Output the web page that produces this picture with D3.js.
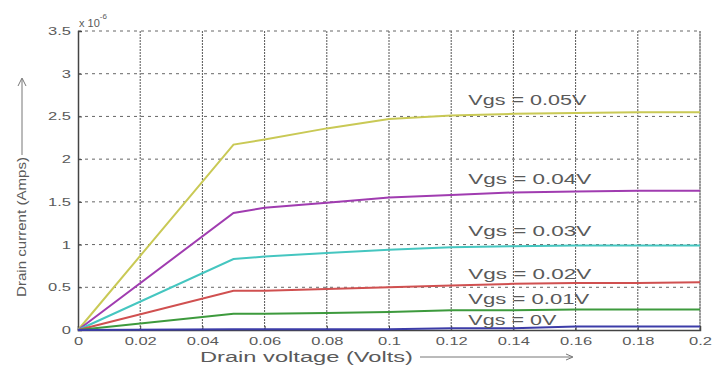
<!DOCTYPE html>
<html>
<head>
<meta charset="utf-8">
<script src="https://cdn.jsdelivr.net/npm/d3@7"></script>
<style>
  body { margin: 0; background: #fff; }
  text { font-family: "Liberation Sans", Arial, sans-serif; fill: #5a5a5a; }
</style>
</head>
<body>
<div id="chart"></div>
<script>
// drain voltage samples (Volts)
var vds = [0, 0.05, 0.06, 0.08, 0.1, 0.12, 0.14, 0.16, 0.18, 0.2];

// drain current, x 10^-6 Amps
var id005 = [0, 2.17, 2.23, 2.36, 2.47, 2.51, 2.53, 2.54, 2.55, 2.55];
var id004 = [0, 1.37, 1.43, 1.49, 1.55, 1.58, 1.61, 1.62, 1.63, 1.63];
var id003 = [0, 0.83, 0.86, 0.90, 0.94, 0.97, 0.98, 0.99, 0.99, 0.99];
var id002 = [0, 0.46, 0.46, 0.48, 0.50, 0.52, 0.54, 0.55, 0.55, 0.56];
var id001 = [0, 0.19, 0.19, 0.20, 0.21, 0.23, 0.23, 0.24, 0.24, 0.24];
var id000 = [0, 0.01, 0.01, 0.01, 0.01, 0.02, 0.02, 0.04, 0.04, 0.04];

var labels = ["Vgs = 0.05V", "Vgs = 0.04V", "Vgs = 0.03V", "Vgs = 0.02V", "Vgs = 0.01V", "Vgs = 0V"];
var labelY = [2.63, 1.71, 1.10, 0.60, 0.30, 0.06];
var colors = ["#c9c955", "#a03cb0", "#45c6c0", "#d05050", "#3d9a3d", "#3c3ca8"];

var xTicks = [0, 0.02, 0.04, 0.06, 0.08, 0.1, 0.12, 0.14, 0.16, 0.18, 0.2];
var yTicks = [0, 0.5, 1, 1.5, 2, 2.5, 3, 3.5];

var width = 714, height = 372;
var svg = d3.select("#chart").append("svg")
    .attr("width", width)
    .attr("height", height);

var x = d3.scaleLinear().domain([0, 0.2]).range([78, 700]);
var y = d3.scaleLinear().domain([0, 3.5]).range([330, 31]);

// stretch text horizontally like the original
function stretch(sel, k) {
    sel.each(function () {
        var w = this.getComputedTextLength();
        this.setAttribute("textLength", w * k);
        this.setAttribute("lengthAdjust", "spacingAndGlyphs");
    });
}

// grid
svg.append("g").selectAll("line")
    .data(xTicks.slice(1))
    .enter().append("line")
    .attr("x1", d => x(d)).attr("x2", d => x(d))
    .attr("y1", y(0)).attr("y2", y(3.5))
    .attr("stroke", "#555")
    .attr("stroke-width", 1)
    .attr("stroke-dasharray", "2,1");

svg.append("g").selectAll("line")
    .data(yTicks.slice(1))
    .enter().append("line")
    .attr("x1", x(0)).attr("x2", x(0.2))
    .attr("y1", d => y(d)).attr("y2", d => y(d))
    .attr("stroke", "#666")
    .attr("stroke-width", 1)
    .attr("stroke-dasharray", "3,4");

// box
svg.append("line")
    .attr("x1", x(0.2)).attr("x2", x(0.2))
    .attr("y1", y(0)).attr("y2", y(3.5))
    .attr("stroke", "#888");

// axes
var xAxis = svg.append("g")
    .attr("transform", `translate(0,${y(0)})`)
    .call(d3.axisBottom(x).tickValues(xTicks).tickSize(-4).tickPadding(7)
        .tickFormat(d => String(+d.toFixed(2))));
var yAxis = svg.append("g")
    .attr("transform", `translate(${x(0)},0)`)
    .call(d3.axisLeft(y).tickValues(yTicks).tickSize(-4).tickPadding(7)
        .tickFormat(d => String(d)));

[xAxis, yAxis].forEach(a => {
    a.select(".domain").attr("stroke", "#444").attr("stroke-width", 1.5);
    a.selectAll(".tick line").attr("stroke", "#444");
    a.selectAll("text").attr("font-size", 11).attr("fill", "#6a6a6a")
        .style("font-family", "Liberation Sans, Arial, sans-serif");
});
stretch(xAxis.selectAll("text"), 1.5);
stretch(yAxis.selectAll("text"), 1.5);

// exponent
var expo = svg.append("text")
    .attr("x", 79).attr("y", 27)
    .attr("font-size", 11);
expo.append("tspan").text("x 10");
expo.append("tspan").attr("dy", -8).attr("font-size", 8).text("-6");

// curves
var series = [id005, id004, id003, id002, id001, id000];
var line = d3.line()
    .x((d, i) => x(vds[i]))
    .y(d => y(d));

svg.append("g").selectAll("path")
    .data(series)
    .enter().append("path")
    .attr("d", line)
    .attr("fill", "none")
    .attr("stroke", (d, i) => colors[i])
    .attr("stroke-width", 2);

// labels
var labelWidth = [118, 123, 123, 123, 121, 88];
svg.append("g").selectAll("text")
    .data(labels)
    .enter().append("text")
    .attr("x", x(0.1255))
    .attr("y", (d, i) => y(labelY[i]))
    .attr("font-size", 14)
    .attr("textLength", (d, i) => labelWidth[i])
    .attr("lengthAdjust", "spacingAndGlyphs")
    .text(d => d);

// axis titles
svg.append("text")
    .attr("x", 200).attr("y", 362)
    .attr("font-size", 14)
    .attr("textLength", 213)
    .attr("lengthAdjust", "spacingAndGlyphs")
    .text("Drain voltage (Volts)");
svg.append("line")
    .attr("x1", 420).attr("x2", 572)
    .attr("y1", 357).attr("y2", 357)
    .attr("stroke", "#777");
svg.append("path")
    .attr("d", "M566,354 L573,357 L566,360")
    .attr("fill", "none").attr("stroke", "#777");

svg.append("text")
    .attr("transform", "translate(26,297)rotate(-90)")
    .attr("font-size", 13)
    .attr("textLength", 140)
    .attr("lengthAdjust", "spacingAndGlyphs")
    .text("Drain current (Amps)");
svg.append("line")
    .attr("x1", 22).attr("x2", 22)
    .attr("y1", 155).attr("y2", 79)
    .attr("stroke", "#777");
svg.append("path")
    .attr("d", "M18,86 L22,78 L26,86")
    .attr("fill", "none").attr("stroke", "#777");
</script>
</body>
</html>
